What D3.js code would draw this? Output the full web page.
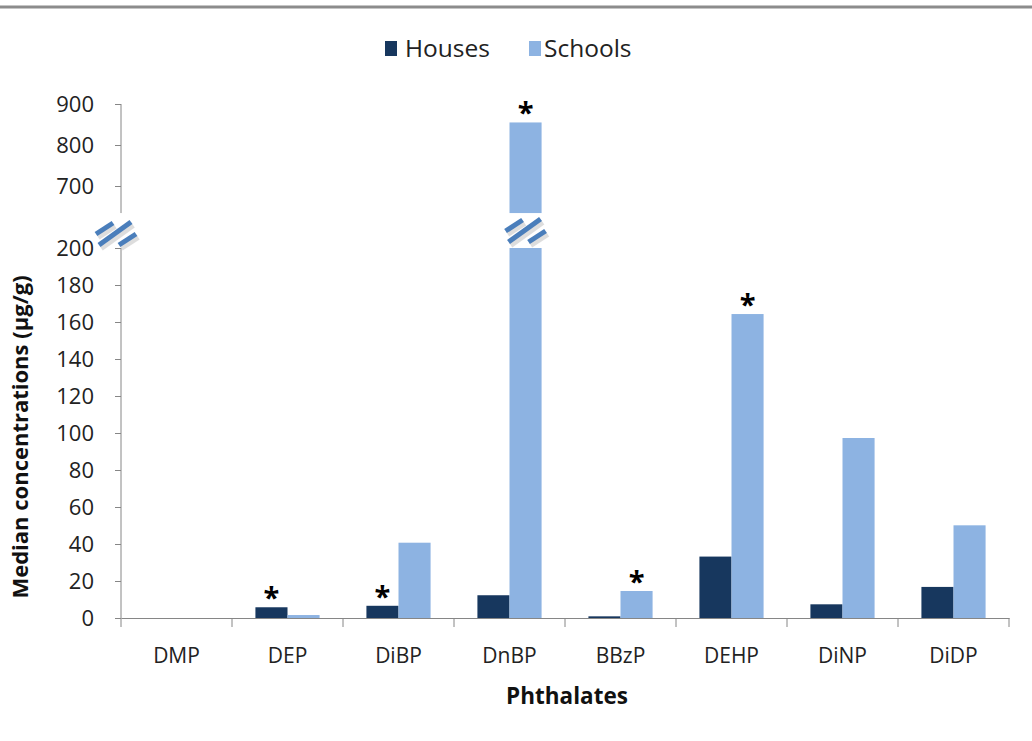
<!DOCTYPE html>
<html><head><meta charset="utf-8">
<script src="https://cdn.jsdelivr.net/npm/d3@7"></script>
<style>body{margin:0;background:#fff}svg{display:block}text{font-family:"Open Sans",sans-serif}</style>
</head><body><svg id="c" width="1032" height="741"></svg>
<script>
const categories = ["DMP","DEP","DiBP","DnBP","BBzP","DEHP","DiNP","DiDP"];
const series = ["Houses","Schools"];
const houses  = [0, 5.8, 6.6, 12.3, 0.9, 33.2, 7.4, 16.8];
const schools = [0, 1.6, 40.7, 855, 14.6, 164.3, 97.3, 50.1];
const starred = [["DEP","Houses"],["DiBP","Houses"],["DnBP","Schools"],["BBzP","Schools"],["DEHP","Schools"]];
const lowTicks = [0,20,40,60,80,100,120,140,160,180,200];
const highTicks = [700,800,900];
const colors = {Houses:"#17375e", Schools:"#8db3e2"};

const FONT = "'Open Sans',sans-serif";
const svg = d3.select("#c");
const axisColor = "#868686";
const x0 = d3.scaleBand().domain(categories).range([121,1009]).padding(0);
const x1 = d3.scaleBand().domain(series).range([0,x0.bandwidth()]).paddingInner(0).paddingOuter(0.73);
const yLow = d3.scaleLinear().domain([0,200]).range([618,248]);
const yHigh = d3.scaleLinear().domain([700,900]).range([186,104]);
const highBottom = 634;

// top border
svg.append("line").attr("x1",0).attr("x2",1032).attr("y1",7).attr("y2",7).attr("stroke","#8c8c8c").attr("stroke-width",3);

// legend
const leg = svg.append("g");
[["Houses",385,405],["Schools",529,544]].forEach(([s,sx,tx])=>{
  leg.append("rect").attr("x",sx).attr("y",41).attr("width",12).attr("height",15).attr("fill",colors[s]);
  leg.append("text").attr("x",tx).attr("y",57).attr("font-size",24.5).attr("fill","#222").text(s);
});

// bars
const data = [];
categories.forEach((c,i)=>{ data.push({c,s:"Houses",v:houses[i]}); data.push({c,s:"Schools",v:schools[i]}); });
const g = svg.append("g");
data.forEach(d=>{
  const x = x0(d.c)+x1(d.s), w = x1.bandwidth();
  if (d.v <= 200) {
    g.append("rect").attr("x",x).attr("y",yLow(d.v)).attr("width",w).attr("height",yLow(0)-yLow(d.v)).attr("fill",colors[d.s]);
  } else {
    g.append("rect").attr("x",x).attr("y",yLow(200)).attr("width",w).attr("height",yLow(0)-yLow(200)).attr("fill",colors[d.s]);
    g.append("rect").attr("x",x).attr("y",yHigh(d.v)).attr("width",w).attr("height",yHigh(highBottom)-yHigh(d.v)).attr("fill",colors[d.s]);
  }
});

// y axes
const yAxL = svg.append("g").attr("transform","translate(121,0)").call(d3.axisLeft(yLow).tickValues(lowTicks).tickSize(6).tickPadding(21));
const yAxH = svg.append("g").attr("transform","translate(121,0)").call(d3.axisLeft(yHigh.copy().domain([highBottom,900]).range([yHigh(highBottom),104])).tickValues(highTicks).tickSize(6).tickPadding(21));
[yAxL,yAxH].forEach(a=>{
  a.selectAll("path,line").attr("stroke",axisColor);
  a.select(".domain").attr("d", a===yAxL ? `M0,${yLow(0)}V${yLow(200)}` : `M0,${yHigh(highBottom)}V104`);
  a.selectAll("text").attr("font-size",22).attr("fill","#222").attr("font-family",FONT);
});

// x axis
const xAx = svg.append("g").attr("transform",`translate(0,${yLow(0)})`).call(d3.axisBottom(x0).tickSize(0).tickPadding(30));
xAx.select(".domain").attr("stroke",axisColor);
xAx.selectAll("text").attr("font-size",21).attr("fill","#222").attr("font-family",FONT);
const bounds = categories.map(c=>x0(c)).concat([x0.range()[1]]);
xAx.selectAll(".sep").data(bounds).join("line").attr("class","sep").attr("x1",d=>d).attr("x2",d=>d).attr("y1",0).attr("y2",9).attr("stroke",axisColor);

// asterisks
starred.forEach(([c,s])=>{
  const i = categories.indexOf(c);
  const v = s==="Houses"?houses[i]:schools[i];
  const top = v<=200 ? yLow(v) : yHigh(v);
  svg.append("text").attr("x",x0(c)+x1(s)+x1.bandwidth()/2).attr("y",top+1).attr("text-anchor","middle")
    .attr("font-size",29).attr("font-weight","bold").attr("fill","#000").text("*");
});

// break symbols
function breakMark(cx,cy){
  const b = svg.append("g").attr("transform",`translate(${cx},${cy})`);
  const segs = [[-20,1,-3,-10],[-17,12,15,-11],[3,12,20,1]];
  segs.forEach(s=>b.append("line").attr("x1",s[0]+2).attr("y1",s[1]+3).attr("x2",s[2]+2).attr("y2",s[3]+3).attr("stroke","#bbb").attr("stroke-width",6).attr("stroke-opacity",0.5));
  segs.forEach(s=>b.append("line").attr("x1",s[0]).attr("y1",s[1]).attr("x2",s[2]).attr("y2",s[3]).attr("stroke","#4a7ebb").attr("stroke-width",5));
}
breakMark(116,233);
breakMark(x0("DnBP")+x1("Schools")+x1.bandwidth()/2,230);

// titles
svg.append("text").attr("x",567).attr("y",704).attr("text-anchor","middle").attr("font-size",22.5).attr("font-weight","bold").attr("fill","#111").text("Phthalates");
svg.append("text").attr("transform","translate(28,437) rotate(-90)").attr("text-anchor","middle").attr("font-size",22).attr("font-weight","bold").attr("fill","#111").text("Median concentrations (µg/g)");
</script></body></html>
